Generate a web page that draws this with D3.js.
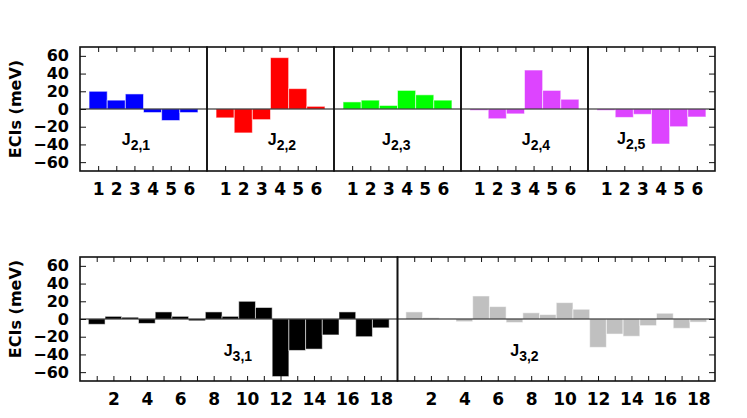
<!DOCTYPE html>
<html>
<head>
<meta charset="utf-8">
<script src="https://cdn.jsdelivr.net/npm/d3@7"></script>
<style>
  body { margin: 0; background: #fff; }
  text { font-family: "DejaVu Sans", "Liberation Sans", Arial, sans-serif; font-weight: bold; }
</style>
</head>
<body>
<script>
// ECI values (meV)
var j21 = [20, 10, 17, -4, -13, -4];
var j22 = [-10, -27, -12, 58, 23, 3];
var j23 = [8, 10, 4, 21, 16, 10];
var j24 = [-1.5, -11, -5.5, 44, 21, 11];
var j25 = [-1.5, -9.5, -6, -39.5, -20, -9];
var j31 = [-6, 3, 2, -5, 8, 3, -2, 8, 3, 20, 13, -65, -35.5, -34, -18, 8, -20, -10];
var j32 = [8, 1.5, 0.3, -3, 26, 14, -4, 7, 5, 18.5, 11, -32, -17, -19.5, -7.5, 6.5, -10.5, -3.5];

var topNames = ["2,1", "2,2", "2,3", "2,4", "2,5"];
var botNames = ["3,1", "3,2"];
var yTicks = [-60, -40, -20, 0, 20, 40, 60];

var width = 747, height = 418;
var tickFont = "'DejaVu Sans', 'Liberation Sans', Arial, sans-serif";

var svg = d3.select("body").append("svg")
  .attr("width", width)
  .attr("height", height);

//rows: where each strip of panels sits
var rows = [
  { top: 47, bottom: 171, left: 80, right: 715, n: 6, sets: [j21, j22, j23, j24, j25], names: topNames,
    colors: ["#0000ff", "#ff0000", "#00ff00", "#dd44ff", "#dd44ff"],
    labelPos: [[2.3, -40.5], [3.35, -40.5], [2.65, -40.5], [3.35, -40.5], [1.6, -39]],
    titleY: 109, every: 1 },
  { top: 257, bottom: 381, left: 80, right: 715, n: 18, sets: [j31, j32], names: botNames,
    colors: ["#000000", "#c0c0c0"],
    labelPos: [[8.6, -41.5], [6.75, -41.5]],
    titleY: 309, every: 2 }
];

rows.forEach(function(row) {
  var y = d3.scaleLinear().domain([-70, 70]).range([row.bottom, row.top]);
  var panelW = (row.right - row.left) / row.sets.length;
  var idx = d3.range(1, row.n + 1);

  row.sets.forEach(function(vals, p) {
    var x0 = row.left + p * panelW;
    var x = d3.scaleLinear().domain([0, row.n + 1]).range([x0, x0 + panelW]);
    var g = svg.append("g");

    //bars
    g.selectAll("rect")
      .data(vals)
      .enter().append("rect")
      .attr("x", function(d, i) { return x(i + 0.5); })
      .attr("width", x(1) - x(0))
      .attr("y", function(d) { return y(Math.max(d, 0)); })
      .attr("height", function(d) { return Math.abs(y(d) - y(0)); })
      .attr("fill", row.colors[p])
      .attr("stroke", "#fff")
      .attr("stroke-opacity", 0.55)
      .attr("stroke-width", 1);

    //zero line
    g.append("line")
      .attr("x1", x0).attr("x2", x0 + panelW)
      .attr("y1", y(0)).attr("y2", y(0))
      .attr("stroke", "#111").attr("stroke-width", 1.2);

    //ticks on top and bottom, pointing in
    var xb = g.append("g")
      .attr("transform", "translate(0," + row.bottom + ")")
      .call(d3.axisBottom(x).tickValues(idx).tickSize(-5).tickPadding(12)
        .tickFormat(function(d) { return d % row.every ? "" : d; }));
    xb.select(".domain").remove();
    xb.selectAll("text").attr("fill", "#000").style("font-size", "17px")
      .style("font-family", tickFont).style("font-weight", "bold");
    xb.selectAll("line").attr("stroke", "#111");

    var xt = g.append("g")
      .attr("transform", "translate(0," + row.top + ")")
      .call(d3.axisTop(x).tickValues(idx).tickSize(-5).tickFormat(""));
    xt.select(".domain").remove();
    xt.selectAll("line").attr("stroke", "#111");

    //panel frame
    g.append("rect")
      .attr("x", x0).attr("y", row.top)
      .attr("width", panelW).attr("height", row.bottom - row.top)
      .attr("fill", "none").attr("stroke", "#111").attr("stroke-width", 1.6);

    //J label with subscript
    var lp = row.labelPos[p];
    var t = g.append("text")
      .attr("x", x(lp[0])).attr("y", y(lp[1]))
      .style("font-family", "'Liberation Sans', Arial, sans-serif")
      .style("font-size", "16px");
    t.append("tspan").text("J");
    t.append("tspan").attr("dy", 5).style("font-size", "14px").text(row.names[p]);
  });

  //y axis left with labels, right just ticks
  var yl = svg.append("g")
    .attr("transform", "translate(" + row.left + ",0)")
    .call(d3.axisLeft(y).tickValues(yTicks).tickSize(-6).tickPadding(11));
  yl.select(".domain").remove();
  yl.selectAll("text").attr("fill", "#000").style("font-size", "16px")
    .style("font-family", tickFont).style("font-weight", "bold");
  yl.selectAll("line").attr("stroke", "#111");

  var yr = svg.append("g")
    .attr("transform", "translate(" + row.right + ",0)")
    .call(d3.axisRight(y).tickValues(yTicks).tickSize(-6).tickFormat(""));
  yr.select(".domain").remove();
  yr.selectAll("line").attr("stroke", "#111");

  //axis title
  svg.append("text")
    .attr("transform", "translate(21," + row.titleY + ") rotate(-90)")
    .attr("text-anchor", "middle")
    .style("font-size", "16px")
    .text("ECIs (meV)");
});
</script>
</body>
</html>
